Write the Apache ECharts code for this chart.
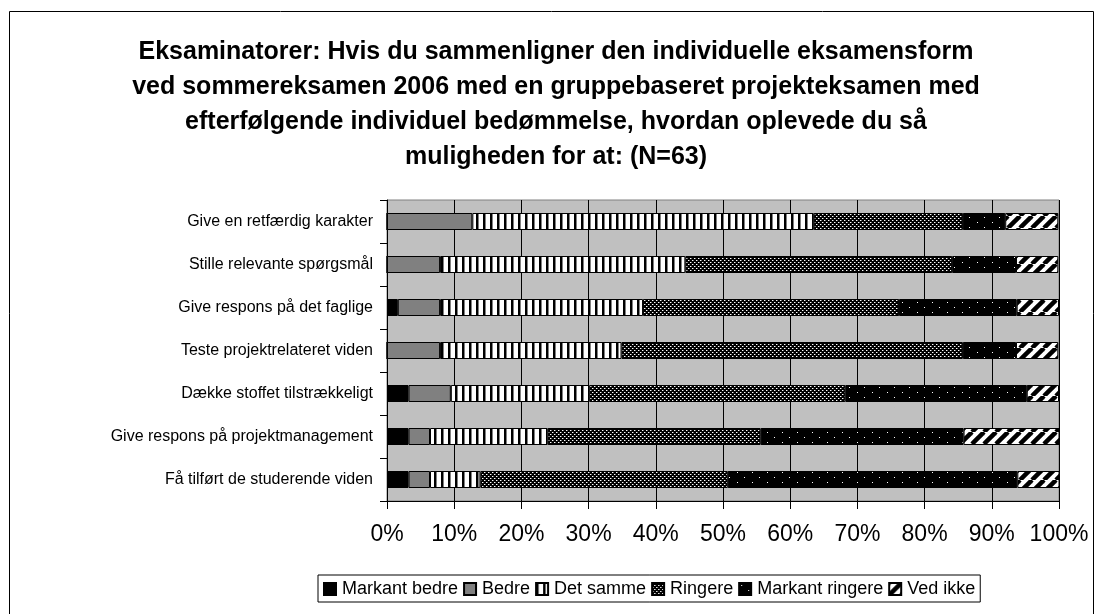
<!DOCTYPE html>
<html>
<head>
<meta charset="utf-8">
<script src="https://cdn.jsdelivr.net/npm/echarts@6/dist/echarts.min.js"></script>
<style>
  html, body { margin: 0; padding: 0; background: #fff; }
  #main { width: 1103px; height: 614px; }
</style>
</head>
<body>
<div id="main"></div>
<script>
// data (percent of answers, N=63)
var categories = [
    'Give en retfærdig karakter',
    'Stille relevante spørgsmål',
    'Give respons på det faglige',
    'Teste projektrelateret viden',
    'Dække stoffet tilstrækkeligt',
    'Give respons på projektmanagement',
    'Få tilført de studerende viden'
];
var seriesNames = ['Markant bedre', 'Bedre', 'Det samme', 'Ringere', 'Markant ringere', 'Ved ikke'];
var markantBedre   = [0, 0, 1.6, 0, 3.2, 3.2, 3.2];
var bedre          = [12.7, 7.9, 6.3, 7.9, 6.3, 3.2, 3.2];
var detSamme       = [50.8, 36.5, 30.2, 27.0, 20.6, 17.5, 7.5];
var ringere        = [22.2, 39.7, 38.1, 50.8, 38.1, 31.7, 36.8];
var markantRingere = [6.3, 9.5, 17.5, 7.9, 27.0, 30.2, 43.1];
var vedIkke        = [7.9, 6.3, 6.3, 6.3, 4.8, 14.3, 6.3];
var tickLabels = ['0%', '10%', '20%', '30%', '40%', '50%', '60%', '70%', '80%', '90%', '100%'];

// small canvas tiles for the excel fill patterns
function pattern(w, h, draw) {
    var c = document.createElement('canvas');
    c.width = w; c.height = h;
    draw(c.getContext('2d'));
    return { image: c, repeat: 'repeat' };
}
var fills = [
    '#000000',
    '#808080',
    pattern(7, 2, function (g) {
        g.fillStyle = '#fff'; g.fillRect(0, 0, 7, 2);
        g.fillStyle = '#000'; g.fillRect(0, 0, 2, 2);
        g.fillStyle = '#808080'; g.fillRect(2, 0, 1, 2);
    }),
    pattern(4, 4, function (g) {
        g.fillStyle = '#000'; g.fillRect(0, 0, 4, 4);
        g.fillStyle = '#fff'; g.fillRect(0, 0, 1, 1); g.fillRect(2, 2, 1, 1);
        g.fillStyle = '#707070'; g.fillRect(1, 0, 1, 1); g.fillRect(3, 2, 1, 1);
    }),
    pattern(15, 10, function (g) {
        g.fillStyle = '#000'; g.fillRect(0, 0, 15, 10);
        g.fillStyle = '#fff'; g.fillRect(2, 2, 1, 1); g.fillRect(9, 7, 1, 1);
    }),
    pattern(12, 12, function (g) {
        g.fillStyle = '#fff'; g.fillRect(0, 0, 12, 12);
        g.strokeStyle = '#000'; g.lineWidth = 4.5;
        [-12, 0, 12].forEach(function (x0) {
            g.beginPath(); g.moveTo(x0, 12); g.lineTo(x0 + 12, 0); g.stroke();
        });
    })
];
var values = [markantBedre, bedre, detSamme, ringere, markantRingere, vedIkke];

var myChart = echarts.init(document.getElementById('main'));
var font = '"Liberation Sans", Arial, sans-serif';

var series = seriesNames.map(function (name, i) {
    return {
        name: name,
        type: 'bar',
        stack: 'total',
        barWidth: 17,
        data: values[i],
        itemStyle: { color: fills[i], borderColor: '#000', borderWidth: 1 },
        emphasis: { disabled: true }
    };
});

option = {
    animation: false,
    textStyle: { fontFamily: font },
    graphic: [{
        type: 'rect',
        shape: { x: 9.5, y: 11.5, width: 1084, height: 620 },
        style: { fill: 'none', stroke: '#000', lineWidth: 1 },
        silent: true
    }],
    title: {
        text: 'Eksaminatorer: Hvis du sammenligner den individuelle eksamensform\nved sommereksamen 2006 med en gruppebaseret projekteksamen med\nefterfølgende individuel bedømmelse, hvordan oplevede du så\nmuligheden for at: (N=63)',
        left: 551,
        textAlign: 'center',
        top: 30,
        textStyle: { fontFamily: font, fontSize: 25, fontWeight: 'bold', color: '#000', lineHeight: 35 }
    },
    legend: {
        left: 318,
        top: 575,
        icon: 'rect',
        itemWidth: 12,
        itemHeight: 12,
        itemGap: 5,
        padding: [5, 5, 4, 5],
        borderColor: '#000',
        borderWidth: 1,
        borderRadius: 0,
        data: seriesNames,
        textStyle: { fontFamily: font, fontSize: 18, color: '#000', padding: [0, 0, 0, 1] }
    },
    grid: {
        left: 387,
        right: 44,
        top: 200,
        bottom: 113,
        show: true,
        backgroundColor: '#C0C0C0',
        borderColor: '#808080',
        borderWidth: 1
    },
    xAxis: {
        type: 'value',
        min: 0,
        max: 100,
        interval: 10,
        axisLine: { show: true, lineStyle: { color: '#000', width: 1 } },
        axisTick: { show: true, length: 8, lineStyle: { color: '#000' } },
        splitLine: { show: true, lineStyle: { color: '#000', width: 1 } },
        axisLabel: {
            margin: 22,
            fontFamily: font,
            fontSize: 23,
            color: '#000',
            formatter: function (v) { return tickLabels[Math.round(v / 10)]; }
        }
    },
    yAxis: {
        type: 'category',
        inverse: true,
        data: categories,
        axisLine: { show: true, lineStyle: { color: '#000', width: 1 } },
        axisTick: { show: true, length: 7, lineStyle: { color: '#000' } },
        axisLabel: { margin: 14, fontFamily: font, fontSize: 16, color: '#000' }
    },
    series: series
};

if (option && typeof option === 'object') {
    myChart.setOption(option, true);
}
</script>
</body>
</html>
